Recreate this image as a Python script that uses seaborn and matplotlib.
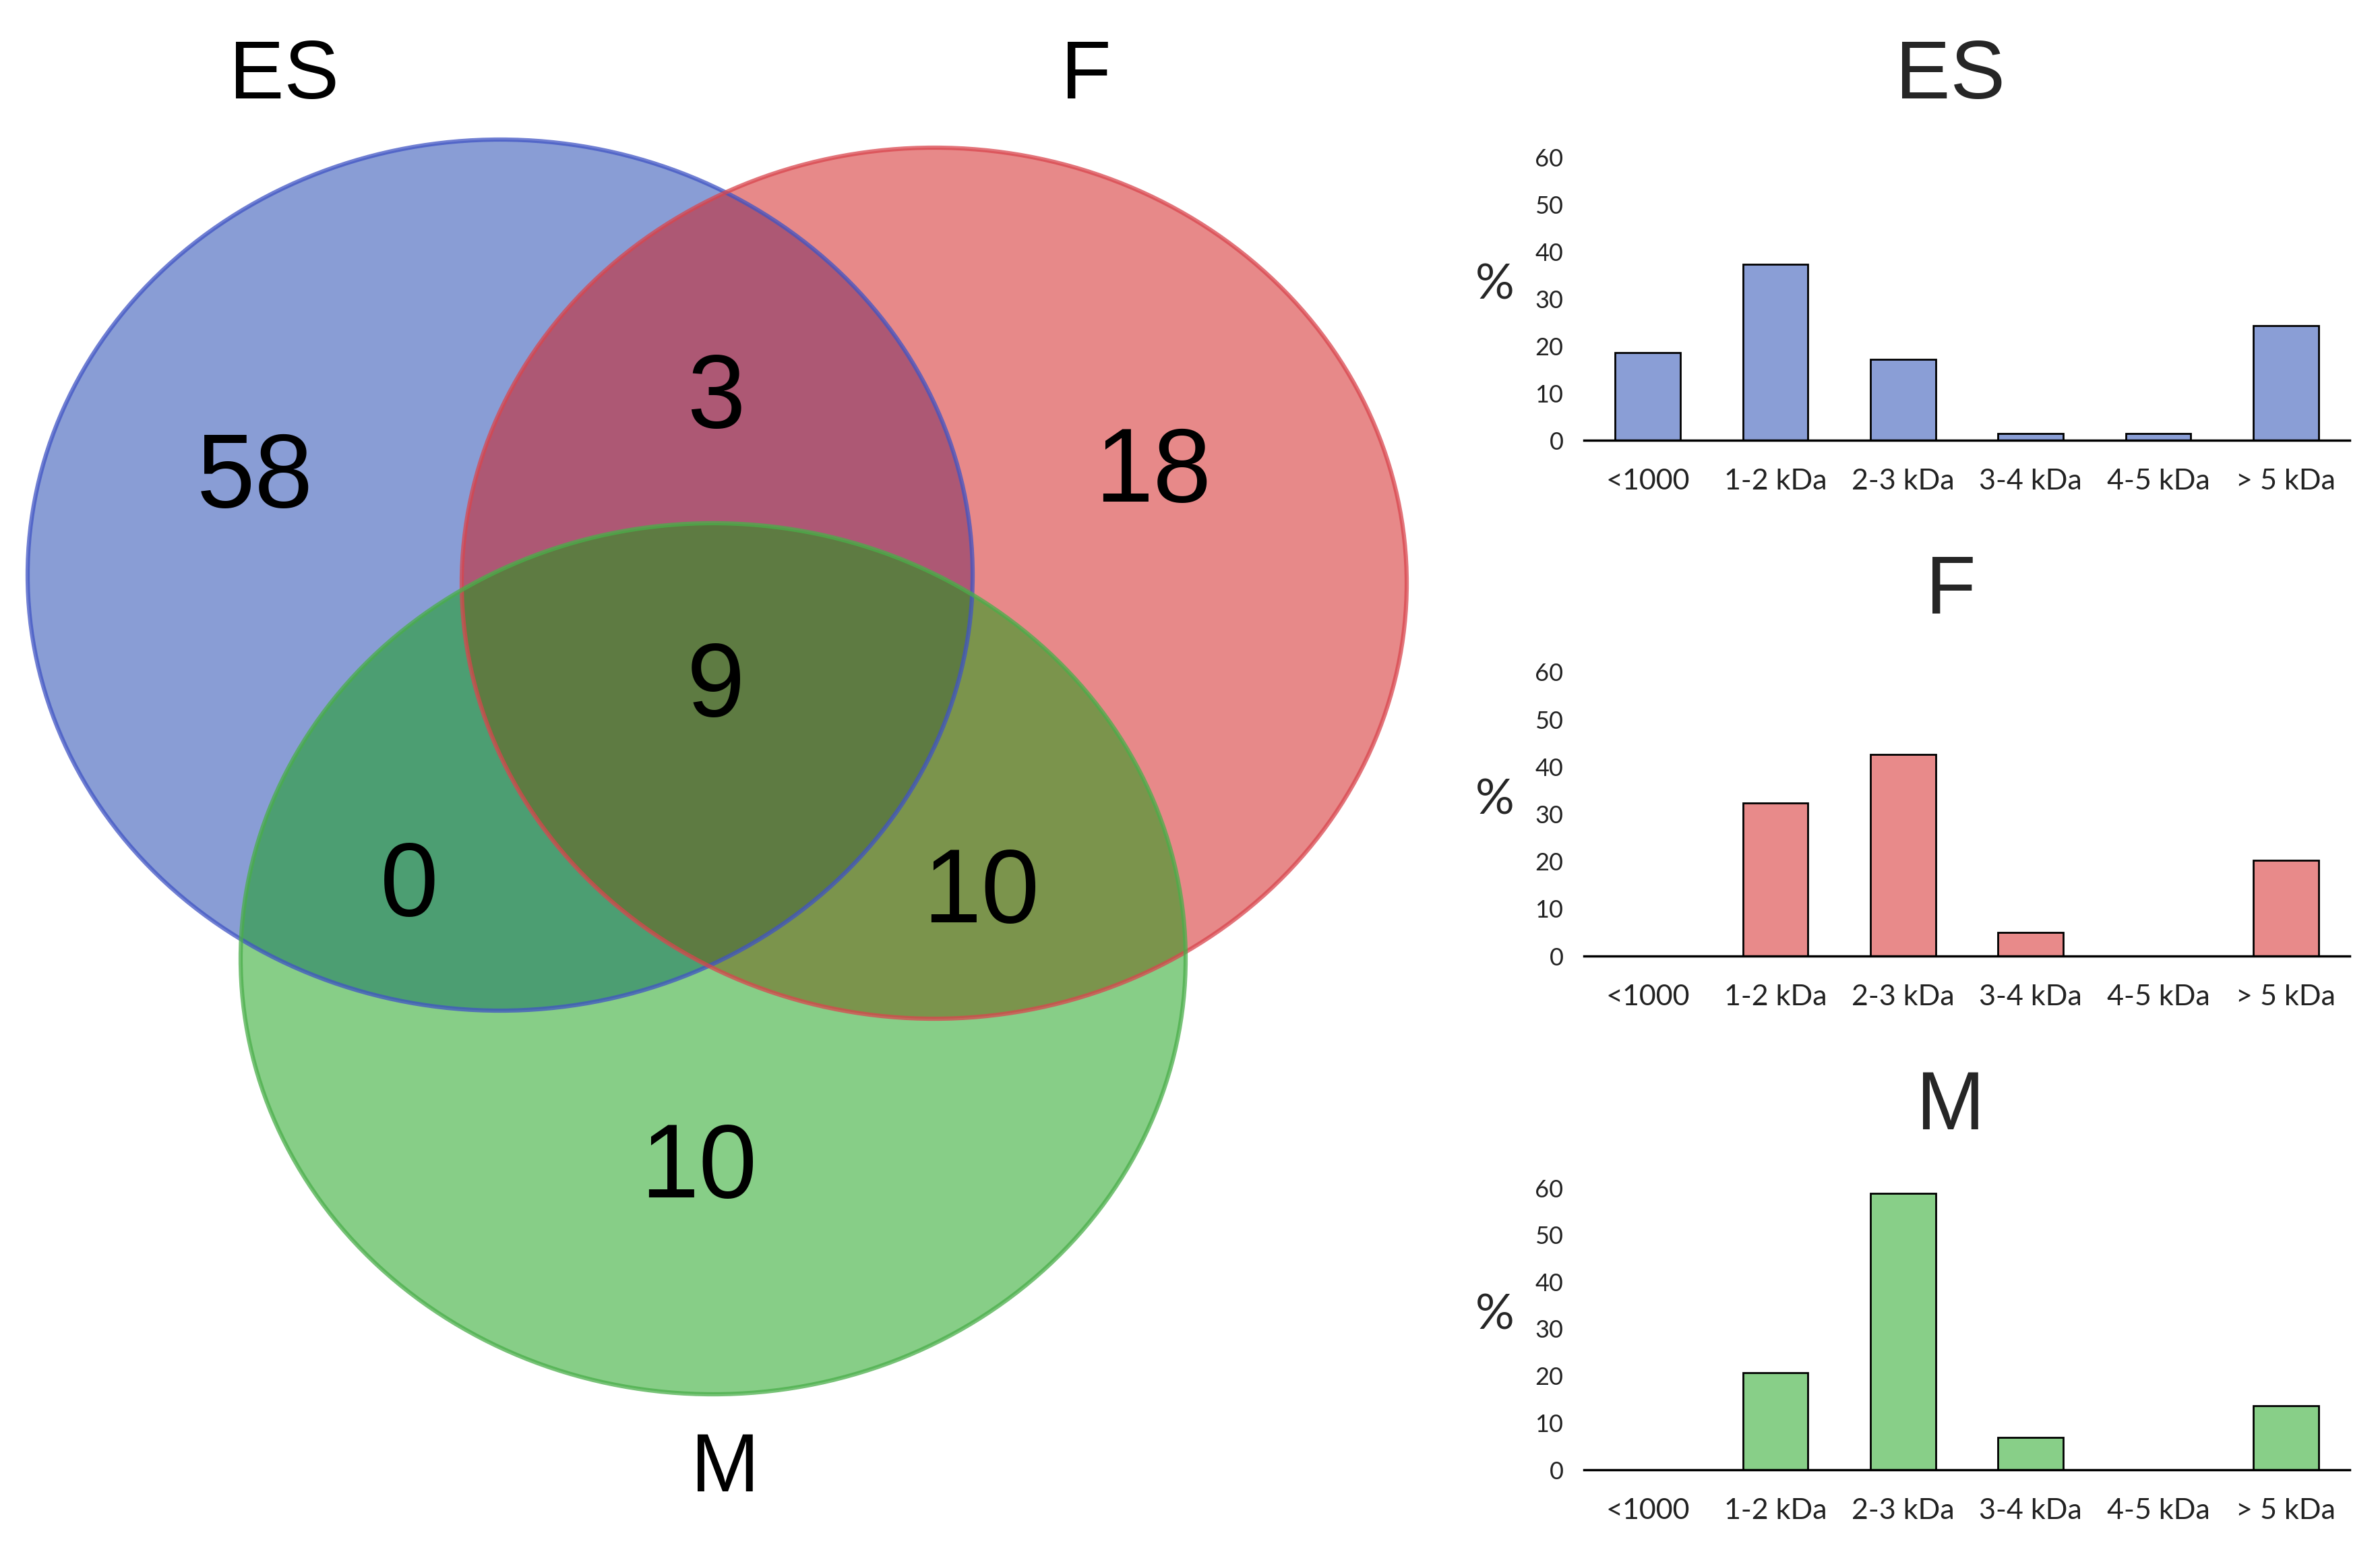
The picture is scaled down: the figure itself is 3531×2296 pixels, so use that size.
import matplotlib
matplotlib.use("Agg")
import matplotlib.pyplot as plt
from matplotlib.patches import Ellipse
import seaborn as sns

# -----------------------------
# Data
# -----------------------------
groups = ["ES", "F", "M"]
venn_counts = {
    "ES": 58, "F": 18, "M": 10,
    "ES_F": 3, "ES_M": 0, "F_M": 10, "ES_F_M": 9,
}
size_classes = ["<1000", "1-2 kDa", "2-3 kDa", "3-4 kDa", "4-5 kDa", "> 5 kDa"]
pct_es = [18.6, 37.3, 17.1, 1.5, 1.5, 24.3]
pct_f = [0, 32.4, 42.6, 5.0, 0, 20.3]
pct_m = [0, 20.6, 58.8, 6.9, 0, 13.7]

# -----------------------------
# Style
# -----------------------------
sns.set_theme(style="white")
plt.rcParams["font.family"] = ["Liberation Sans", "DejaVu Sans"]

W, H = 3531, 2296
fig = plt.figure(figsize=(W / 100, H / 100), dpi=100)
fig.patch.set_facecolor("white")

base_cols = {"ES": "#153dad", "F": "#d11515", "M": "#119f11"}
edge_cols = {"ES": "#4054c4", "F": "#d9464e", "M": "#4aae4a"}
bar_cols = {"ES": "#8a9ed6", "F": "#e88a8a", "M": "#88cf88"}

# -----------------------------
# Venn diagram (pixel coordinates)
# -----------------------------
vax = fig.add_axes([0, 0, 1, 1])
vax.set_xlim(0, W)
vax.set_ylim(H, 0)
vax.axis("off")

ellipses = {"ES": (742, 853), "F": (1386, 865), "M": (1058, 1422)}
rx, ry = 701, 646
for g in groups:
    cx, cy = ellipses[g]
    vax.add_patch(Ellipse((cx, cy), 2 * rx, 2 * ry, facecolor=base_cols[g],
                          alpha=0.5, edgecolor="none"))
for g in groups:
    cx, cy = ellipses[g]
    vax.add_patch(Ellipse((cx, cy), 2 * rx, 2 * ry, facecolor="none",
                          edgecolor=edge_cols[g], lw=4.5, alpha=0.75))

count_pos = {
    "ES": (378, 712), "F": (1711, 703), "M": (1037, 1736),
    "ES_F": (1062, 594), "ES_M": (607, 1317), "F_M": (1456, 1328),
    "ES_F_M": (1062, 1021),
}
for key, (x, y) in count_pos.items():
    vax.text(x, y, str(venn_counts[key]), fontsize=112, ha="center",
             va="center", color="black")

label_pos = {"ES": (421, 114), "F": (1611, 114), "M": (1076, 2180)}
for g, (x, y) in label_pos.items():
    vax.text(x, y, g, fontsize=88, ha="center", va="center", color="black")

# -----------------------------
# Bar charts
# -----------------------------
bar_data = {"ES": pct_es, "F": pct_f, "M": pct_m}
zero_y = {"ES": 653, "F": 1418, "M": 2180}
top_y = {"ES": 233, "F": 997, "M": 1762}
left_x, right_x = 2350, 3486

for g in groups:
    ax = fig.add_axes([left_x / W, 1 - zero_y[g] / H,
                       (right_x - left_x) / W, (zero_y[g] - top_y[g]) / H])
    sns.barplot(x=size_classes, y=bar_data[g], color=bar_cols[g],
                saturation=1, edgecolor="black", linewidth=2, width=0.51, ax=ax)
    ax.set_ylim(0, 60)
    ax.set_xlim(-0.5, 5.5)
    ax.set_yticks(range(0, 61, 10))
    for s in ["top", "right", "left"]:
        ax.spines[s].set_visible(False)
    ax.spines["bottom"].set_color("black")
    ax.spines["bottom"].set_linewidth(2.5)
    ax.tick_params(axis="both", length=0)
    ax.tick_params(axis="x", labelsize=31, pad=30)
    ax.tick_params(axis="y", labelsize=26, pad=22)
    for lab in ax.get_xticklabels() + ax.get_yticklabels():
        lab.set_family(["Lato", "DejaVu Sans"])
        lab.set_color("#222222")
    ax.set_facecolor("none")
    ax.set_ylabel("")
    # "%" axis label and title in figure pixels
    vax.text(2218, (zero_y[g] + top_y[g]) / 2 - 20, "%", fontsize=52,
             ha="center", va="center", family=["Lato", "DejaVu Sans"])
    vax.text(2894, top_y[g] - 119, g, fontsize=88, ha="center", va="center")

fig.savefig("out.png", dpi=100, facecolor="white")
